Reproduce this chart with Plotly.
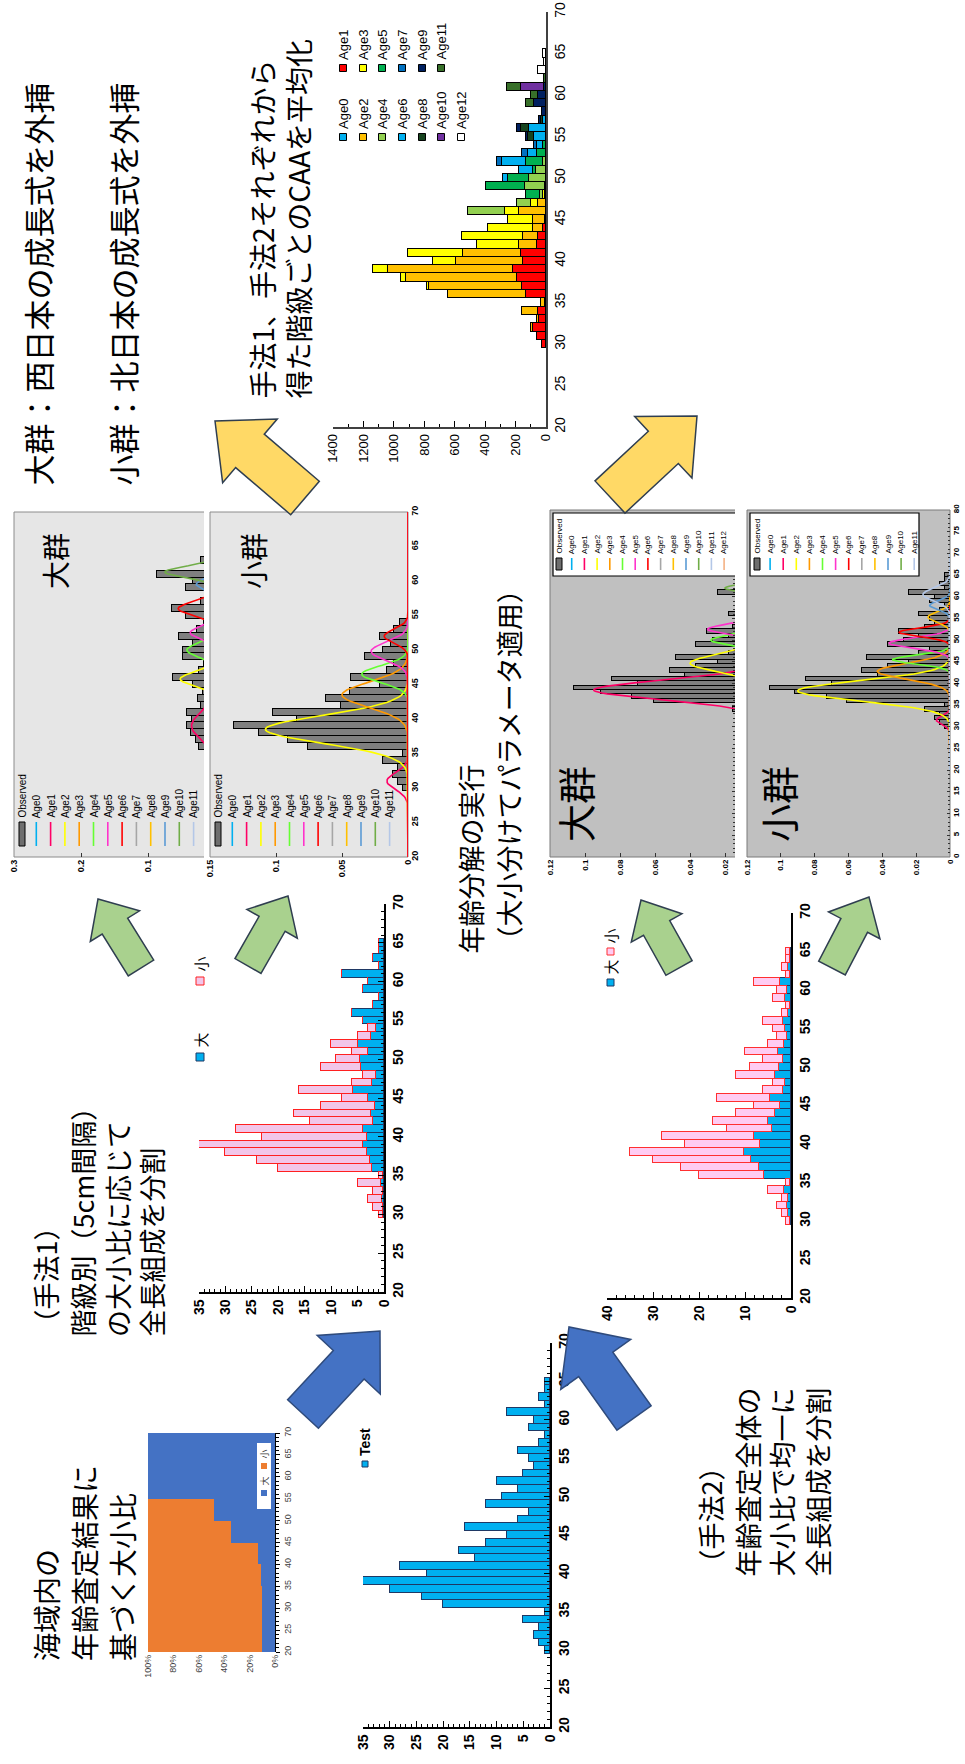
import numpy as np
import plotly.graph_objects as go

W, H = 965, 1764
JP = "Noto Sans CJK JP"
LAT = "Liberation Sans, Arial, sans-serif"

# ---------------- data ----------------
lengths = list(range(30, 66))  # 1 cm length classes (cm)

test_counts = [1, 2, 3, 2, 5, 1, 20, 24, 30, 35, 23, 28, 14, 17, 12, 8, 16, 6,
               4, 12, 9, 6, 10, 5, 3, 4, 6, 2, 1, 4, 3, 8, 1, 2, 1, 1]

# method 1: split by the large/small ratio of each 5 cm class
large_m1 = [0.1, 0.2, 0.3, 0.2, 0.5, 0.1, 2.2, 2.6, 3.3, 3.9, 3.2, 3.9, 2.0, 2.4,
            1.7, 3.0, 5.9, 2.2, 1.5, 4.4, 4.5, 3.0, 5.0, 2.5, 1.5, 4, 6, 2, 1, 4,
            3, 8, 1, 2, 1, 1]
small_m1 = [0.9, 1.8, 2.7, 1.8, 4.5, 0.9, 17.8, 21.4, 26.7, 31.1, 19.8, 24.1,
            12.0, 14.6, 10.3, 5.0, 10.1, 3.8, 2.5, 7.6, 4.5, 3.0, 5.0, 2.5, 1.5,
            0, 0, 0, 0, 0, 0, 0, 0, 0, 0, 0]

# method 2: one overall large/small ratio
large_m2 = [0.3, 0.6, 0.9, 0.6, 1.5, 0.3, 5.8, 7.0, 8.7, 10.2, 6.7, 8.1, 4.1, 4.9,
            3.5, 2.3, 4.6, 1.7, 1.2, 3.5, 2.6, 1.7, 2.9, 1.5, 0.9, 1.2, 1.7, 0.6,
            0.3, 1.2, 0.9, 2.3, 0.3, 0.6, 0.3, 0.3]
small_m2 = [0.7, 1.4, 2.1, 1.4, 3.5, 0.7, 14.2, 17.0, 21.3, 24.8, 16.3, 19.9, 9.9,
            12.1, 8.5, 5.7, 11.4, 4.3, 2.8, 8.5, 6.4, 4.3, 7.1, 3.5, 2.1, 2.8, 4.3,
            1.4, 0.7, 2.8, 2.1, 5.7, 0.7, 1.4, 0.7, 0.7]

# large/small ratio from age readings, per 5 cm class
ratio_class_mid = [22.5, 27.5, 32.5, 37.5, 42.5, 47.5, 52.5, 57.5, 62.5, 67.5]
ratio_large = [0.10, 0.10, 0.10, 0.11, 0.13, 0.35, 0.48, 1.0, 1.0, 1.0]
ratio_small = [0.90, 0.90, 0.90, 0.89, 0.87, 0.65, 0.52, 0.0, 0.0, 0.0]

# catch at age by length class {length: number}
caa_age0 = {}
caa_age1 = {30: 26, 31: 61, 32: 88, 33: 44, 34: 50, 35: 4, 36: 131, 37: 158, 38: 193,
            39: 219, 40: 149, 41: 164, 42: 59, 43: 50, 44: 22, 45: 4}
caa_age2 = {32: 8, 33: 17, 34: 107, 35: 26, 36: 515, 37: 608, 38: 726, 39: 820,
            40: 445, 41: 383, 42: 120, 43: 103, 44: 66, 45: 84, 46: 175, 47: 55, 48: 8}
caa_age3 = {37: 15, 38: 37, 39: 99, 40: 149, 41: 361, 42: 274, 43: 399, 44: 296,
            45: 164, 46: 94, 47: 44, 48: 12, 49: 4}
caa_age4 = {46: 245, 47: 94, 48: 22, 49: 131, 50: 114, 51: 66, 52: 18}
caa_age5 = {48: 88, 49: 257, 50: 138, 51: 22, 52: 114, 53: 61, 54: 20}
caa_age6 = {50: 33, 51: 92, 52: 160, 53: 59, 54: 40, 55: 77, 56: 110, 57: 20}
caa_age7 = {52: 33, 53: 37, 54: 22}
caa_age8 = {55: 44, 56: 55, 57: 15}
caa_age9 = {55: 8, 56: 28, 57: 12, 58: 26, 59: 77, 60: 55, 61: 10}
caa_age10 = {61: 153}
caa_age11 = {59: 55, 60: 44, 61: 92, 62: 10}
caa_age12 = {63: 50, 64: 10, 65: 20}

age_names = ["Age%d" % a for a in range(13)]
caa_tables = [caa_age0, caa_age1, caa_age2, caa_age3, caa_age4, caa_age5, caa_age6,
              caa_age7, caa_age8, caa_age9, caa_age10, caa_age11, caa_age12]
caa_colors = ["#00B0F0", "#FF0000", "#FFC000", "#FFFF00", "#92D050", "#00B050",
              "#00B0F0", "#0070C0", "#17441F", "#002060", "#7030A0", "#38702A", "#FFFFFF"]

fit_colors = ["#00B0F0", "#FF0066", "#FFFF00", "#FF9900", "#66FF33", "#FF33CC",
              "#FF0000", "#A6A6A6", "#FFC000", "#5B9BD5", "#70AD47", "#B4C7E7", "#F4B183"]

# fitted age components: (age, mean length, sd, peak proportion)
fit_m1_large = [(1, 39.0, 2.0, 0.035), (2, 45.8, 1.0, 0.052), (4, 50.0, 1.0, 0.042),
                (5, 52.5, 0.9, 0.037), (6, 56.0, 1.0, 0.055), (9, 59.5, 0.8, 0.028),
                (10, 61.3, 0.8, 0.075)]
fit_m1_small = [(1, 31.0, 1.2, 0.016), (2, 38.5, 2.0, 0.108), (3, 43.5, 1.8, 0.05),
                (4, 46.5, 1.2, 0.035), (5, 49.8, 1.3, 0.028), (6, 52.0, 1.0, 0.018)]
fit_m2_large = [(1, 38.5, 2.2, 0.095), (2, 44.7, 2.0, 0.04), (4, 50.0, 1.2, 0.028),
                (5, 52.5, 1.2, 0.03), (10, 62.0, 0.8, 0.02)]
fit_m2_small = [(1, 31.5, 1.0, 0.008), (2, 38.3, 2.3, 0.09), (3, 42.8, 1.8, 0.043),
                (4, 45.5, 1.0, 0.034), (5, 49.3, 1.2, 0.036), (6, 51.8, 1.0, 0.03),
                (8, 55.3, 1.2, 0.013), (9, 58.0, 1.0, 0.012), (11, 60.5, 1.5, 0.016)]


# ---------------- helpers ----------------
def X(x):
    return x / W


def Y(y):
    return 1 - y / H


shapes = []
annotations = []


def rect(x0, y0, x1, y1, fill, line=None, lw=1, layer="below", dash=None):
    ln = dict(width=0) if line is None else dict(color=line, width=lw)
    if dash:
        ln["dash"] = dash
    shapes.append(dict(type="rect", xref="paper", yref="paper", x0=X(x0), x1=X(x1),
                       y0=Y(y1), y1=Y(y0), fillcolor=fill, line=ln, layer=layer))


def path(points, fill=None, line="black", lw=1, closed=True, layer="above", dash=None):
    d = "M " + " L ".join("%.5f,%.5f" % (X(px), Y(py)) for px, py in points)
    if closed:
        d += " Z"
    ln = dict(color=line, width=lw)
    if dash:
        ln["dash"] = dash
    s = dict(type="path", xref="paper", yref="paper", path=d, line=ln, layer=layer)
    if fill:
        s["fillcolor"] = fill
    shapes.append(s)


def text(x, y, s, size, color="black", family=JP, angle=-90, xanchor="center",
         yanchor="bottom", weight="normal"):
    annotations.append(dict(x=X(x), y=Y(y), xref="paper", yref="paper", text=s,
                            showarrow=False, textangle=angle, xanchor=xanchor,
                            yanchor=yanchor, align="left", borderpad=0,
                            font=dict(size=size, color=color, family=family,
                                      weight=weight)))


def block_arrow(tail, tip, shaft_w, head_w, head_len, fill, line):
    tx, ty = tail
    hx, hy = tip
    dx, dy = hx - tx, hy - ty
    L = (dx * dx + dy * dy) ** 0.5
    ux, uy = dx / L, dy / L
    nx, ny = -uy, ux
    bx, by = hx - ux * head_len, hy - uy * head_len
    pts = [(tx + nx * shaft_w / 2, ty + ny * shaft_w / 2),
           (bx + nx * shaft_w / 2, by + ny * shaft_w / 2),
           (bx + nx * head_w / 2, by + ny * head_w / 2),
           (hx, hy),
           (bx - nx * head_w / 2, by - ny * head_w / 2),
           (bx - nx * shaft_w / 2, by - ny * shaft_w / 2),
           (tx - nx * shaft_w / 2, ty - ny * shaft_w / 2)]
    path(pts, fill=fill, line=line, lw=1.5)


layout = dict(width=W, height=H, margin=dict(l=0, r=0, t=0, b=0),
              paper_bgcolor="white", plot_bgcolor="rgba(0,0,0,0)", template="none",
              barmode="stack", bargap=0, showlegend=False,
              font=dict(family=LAT, color="black"))


def set_axes(n, xl, xr, yb, yt, xrange, yrange, xopts, yopts):
    xa = "xaxis" if n == 1 else "xaxis%d" % n
    ya = "yaxis" if n == 1 else "yaxis%d" % n
    xid = "x" if n == 1 else "x%d" % n
    yid = "y" if n == 1 else "y%d" % n
    base = dict(showgrid=False, zeroline=False, automargin=False, fixedrange=True)
    layout[xa] = dict(domain=[X(xl), X(xr)], range=xrange, anchor=yid, **base, **xopts)
    layout[ya] = dict(domain=[Y(yb), Y(yt)], range=yrange, anchor=xid, side="right",
                      **base, **yopts)
    return xid, yid


def hist_x(dtick=5, minor=1, size=14, weight="bold"):
    return dict(tickmode="linear", tick0=0, dtick=dtick, tickangle=-90, ticks="inside",
                ticklen=6, tickcolor="black", showline=True, linecolor="black",
                linewidth=1.5, tickfont=dict(size=size, weight=weight, family=LAT),
                minor=dict(dtick=minor, ticks="inside", ticklen=3, tickcolor="black"))


def hist_y(size=14, weight="bold", minor=1, ticks="inside"):
    d = dict(tickmode="linear", tick0=20, dtick=5, tickangle=-90, ticks=ticks,
             ticklen=6 if ticks else 0, tickcolor="black", showline=True,
             linecolor="black", linewidth=1.5,
             tickfont=dict(size=size, weight=weight, family=LAT))
    if minor:
        d["minor"] = dict(dtick=minor, ticks="inside", ticklen=3, tickcolor="black")
    return d


traces = []
grid = np.arange(20, 70.01, 0.2)

# ---------------- length composition (test) ----------------
xa, ya = set_axes(1, 363, 550, 1727, 1343, [35, 0], [20, 70], hist_x(), hist_y())
traces.append(go.Bar(y=lengths, x=test_counts, orientation="h", width=1,
                     marker=dict(color="#00B0F0", line=dict(color="#1F3864", width=1.2)),
                     xaxis=xa, yaxis=ya))
rect(362, 1461, 368, 1467, "#00B0F0", "#1F3864", 1, layer="above")
text(365, 1457, "Test", 14, family=LAT, weight="bold")

# ---------------- method 1 split ----------------
xa, ya = set_axes(2, 199, 384, 1292, 904, [35, 0], [20, 70], hist_x(), hist_y())
traces.append(go.Bar(y=lengths, x=large_m1, orientation="h", width=1,
                     marker=dict(color="#00B0F0", line=dict(color="#1F3864", width=1.2)),
                     xaxis=xa, yaxis=ya))
traces.append(go.Bar(y=lengths, x=small_m1, orientation="h", width=1,
                     marker=dict(color="#F2C6E9", line=dict(color="#FF2020", width=1.2)),
                     xaxis=xa, yaxis=ya))
rect(196, 1053, 204, 1061, "#00B0F0", "#1F3864", 1, layer="above")
text(200, 1049, "大", 15)
rect(196, 977, 204, 985, "#F2C6E9", "#FF2020", 1, layer="above")
text(200, 973, "小", 15)

# ---------------- method 2 split ----------------
xa, ya = set_axes(3, 607, 791, 1298, 913, [40, 0], [20, 70],
                  hist_x(dtick=10, minor=2), hist_y(minor=None, ticks=""))
traces.append(go.Bar(y=lengths, x=large_m2, orientation="h", width=1,
                     marker=dict(color="#00B0F0", line=dict(color="#1F3864", width=1.2)),
                     xaxis=xa, yaxis=ya))
traces.append(go.Bar(y=lengths, x=small_m2, orientation="h", width=1,
                     marker=dict(color="#FFCCF2", line=dict(color="#FF3030", width=1.2)),
                     xaxis=xa, yaxis=ya))
rect(607, 979, 614, 986, "#00B0F0", "#1F3864", 1, layer="above")
text(610, 976, "大", 15)
rect(607, 948, 614, 955, "#FFCCF2", "#FF3030", 1, layer="above")
text(610, 945, "小", 15)

# ---------------- large/small ratio ----------------
xa, ya = set_axes(4, 148, 275, 1652, 1433, [1, 0], [20, 70],
                  dict(tickmode="array", tickvals=[0, 0.2, 0.4, 0.6, 0.8, 1.0],
                       ticktext=["0%", "20%", "40%", "60%", "80%", "100%"],
                       tickangle=-90, ticks="", tickfont=dict(size=9, color="#404040")),
                  dict(tickmode="linear", tick0=20, dtick=5, tickangle=-90,
                       ticks="outside", ticklen=4, tickcolor="black", showline=True,
                       linecolor="black", linewidth=1, tickfont=dict(size=9, color="#404040"),
                       minor=dict(dtick=1, ticks="outside", ticklen=3, tickcolor="black")))
traces.append(go.Bar(y=ratio_class_mid, x=ratio_large, orientation="h", width=5,
                     marker=dict(color="#4472C4", line=dict(width=0)), xaxis=xa, yaxis=ya))
traces.append(go.Bar(y=ratio_class_mid, x=ratio_small, orientation="h", width=5,
                     marker=dict(color="#ED7D31", line=dict(width=0)), xaxis=xa, yaxis=ya))
rect(257, 1443, 271, 1509, "white", None, layer="above")
rect(261, 1490, 267, 1496, "#4472C4", None, layer="above")
text(264, 1487, "大", 9, color="#404040")
rect(261, 1463, 267, 1469, "#ED7D31", None, layer="above")
text(264, 1460, "小", 9, color="#404040")


# ---------------- age decomposition panels ----------------
def density(values):
    arr = np.asarray(values, dtype=float)
    return arr / arr.sum()


def decomp_panel(n, xl, xr, yb, yt, xrange, yrange, counts, comps, tick_dtick,
                 len_dtick, tick_size, show_len_labels, len_minor=None):
    xo = dict(tickmode="linear", tick0=0, dtick=tick_dtick, tickangle=-90,
              ticks="inside", ticklen=4, tickcolor="#333333",
              tickfont=dict(size=tick_size, family=LAT, weight="bold"))
    yo = dict(tickmode="linear", tick0=yrange[0], dtick=len_dtick, tickangle=-90,
              ticks="inside" if len_minor else "", ticklen=3, tickcolor="#333333",
              showticklabels=show_len_labels,
              tickfont=dict(size=tick_size, family=LAT, weight="bold"))
    if len_minor:
        yo["minor"] = dict(dtick=len_minor, ticks="inside", ticklen=2, tickcolor="#333333")
    xa, ya = set_axes(n, xl, xr, yb, yt, xrange, yrange, xo, yo)
    traces.append(go.Bar(y=lengths, x=density(counts), orientation="h", width=1,
                         marker=dict(color="#7F7F7F", line=dict(color="black", width=1)),
                         xaxis=xa, yaxis=ya))
    for age, mu, sd, peak in comps:
        traces.append(go.Scatter(x=peak * np.exp(-0.5 * ((grid - mu) / sd) ** 2), y=grid,
                                 mode="lines", line=dict(color=fit_colors[age], width=1.6),
                                 xaxis=xa, yaxis=ya))


def decomp_legend(x0, step, n_ages, sym_top, sym_bot, size, xmax=10000):
    names = ["Observed"] + age_names[:n_ages]
    for i, name in enumerate(names):
        x = x0 + i * step
        if x > xmax:
            break
        if i == 0:
            rect(x - 3, sym_top, x + 3, sym_bot, "#6E6E6E", "black", 1, layer="above")
        else:
            path([(x, sym_top), (x, sym_bot)], line=fit_colors[i - 1], lw=1.6,
                 closed=False)
        text(x, sym_top - 3, name, size, family=LAT)


# method 1, large group (right part covered by the small-group panel)
rect(14, 512, 204, 857, "#E6E6E6", None)
path([(204, 512), (14, 512), (14, 857), (204, 857)], line="#8C8C8C", lw=1,
     closed=False, layer="below")
decomp_panel(5, 14, 204, 857, 512, [0.3, 0.3 * 11 / 201], [20, 70], large_m1,
             fit_m1_large, 0.1, 5, 9, False)
decomp_legend(22, 14.3, 13, 822, 846, 10, xmax=200)
text(55, 590, "大群", 28)

# method 1, small group
rect(210, 512, 408, 857, "#E6E6E6", "#8C8C8C", 1)
decomp_panel(6, 210, 408, 857, 512, [0.15, 0], [20, 70], small_m1, fit_m1_small,
             0.05, 5, 9, True)
decomp_legend(218, 14.3, 12, 822, 846, 10)
text(253, 590, "小群", 28)

# method 2, large group (right part covered)
rect(550, 510, 735, 857, "#C0C0C0", None)
path([(735, 510), (550, 510), (550, 857), (735, 857)], line="#7A7A7A", lw=1,
     closed=False, layer="below")
decomp_panel(7, 550, 735, 857, 510, [0.12, 0.12 * 25 / 210], [0, 80], large_m2,
             fit_m2_large, 0.02, 5, 8, False, len_minor=1)
rect(553, 513, 735, 576, "white", None, layer="above")
path([(735, 513), (553, 513), (553, 576), (735, 576)], line="black", lw=1.2,
     closed=False)
decomp_legend(559, 12.7, 13, 558, 570, 8, xmax=732)
text(575, 843, "大群", 38)

# method 2, small group
rect(747, 510, 950, 857, "#C0C0C0", "#7A7A7A", 1)
decomp_panel(8, 747, 950, 857, 510, [0.12, 0], [0, 80], small_m2, fit_m2_small,
             0.02, 5, 8, True, len_minor=1)
rect(750, 513, 919, 576, "white", "black", 1.2, layer="above")
decomp_legend(757, 13.1, 12, 558, 570, 8)
text(778, 843, "小群", 38)

# ---------------- catch at age ----------------
xa, ya = set_axes(9, 333, 546, 427, 12, [1400, 0], [20, 70],
                  dict(tickmode="linear", tick0=0, dtick=200, tickangle=-90,
                       ticks="inside", ticklen=6, tickcolor="black", showline=True,
                       linecolor="#404040", linewidth=1.5,
                       tickfont=dict(size=13, family=LAT),
                       minor=dict(dtick=100, ticks="inside", ticklen=3, tickcolor="black")),
                  dict(tickmode="linear", tick0=20, dtick=5, tickangle=-90, ticks="",
                       showline=True, linecolor="#404040", linewidth=1.5,
                       tickfont=dict(size=14, family=LAT)))
for name, table, col in zip(age_names, caa_tables, caa_colors):
    traces.append(go.Bar(y=lengths, x=[table.get(L, 0) for L in lengths], orientation="h",
                         width=1, name=name,
                         marker=dict(color=col, line=dict(color="black", width=1)),
                         xaxis=xa, yaxis=ya))
legend_rows = [343, 363, 382, 402, 422, 441, 461]
for i, (name, col) in enumerate(zip(age_names, caa_colors)):
    x = legend_rows[i // 2]
    ys = 137 if i % 2 == 0 else 68
    rect(x - 3.5, ys - 3.5, x + 3.5, ys + 3.5, col, "black", 1, layer="above")
    text(x, ys - 7, name, 13, family=LAT)

# ---------------- arrows ----------------
BLUE, BLUE_L = "#4472C4", "#2F4B7C"
GREEN, YEL, DARK = "#A9D18E", "#FFD966", "#2F3E50"
block_arrow((303, 1414), (380, 1331), 42, 86, 46, BLUE, BLUE_L)
block_arrow((634, 1418), (569, 1327), 42, 86, 46, BLUE, BLUE_L)
block_arrow((141, 968), (98, 899), 30, 58, 32, GREEN, DARK)
block_arrow((248, 966), (288, 896), 30, 58, 32, GREEN, DARK)
block_arrow((679, 968), (641, 900), 30, 58, 32, GREEN, DARK)
block_arrow((832, 968), (869, 897), 30, 58, 32, GREEN, DARK)
block_arrow((305, 498), (215, 421), 44, 84, 46, YEL, DARK)
block_arrow((610, 497), (697, 416), 44, 84, 46, YEL, DARK)

# ---------------- captions ----------------
text(37, 487, "大群：西日本の成長式を外挿", 31)
text(122, 487, "小群：北日本の成長式を外挿", 31)
text(262, 400, "手法1、手法2それぞれから", 28)
text(298, 400, "得た階級ごとのCAAを平均化", 28)
text(470, 955, "年齢分解の実行", 27)
text(508, 955, "（大小分けてパラメータ適用）", 27)
text(45, 1338, "（手法1）", 27)
text(82, 1338, "階級別（5cm間隔）", 27)
text(117, 1338, "の大小比に応じて", 27)
text(151, 1338, "全長組成を分割", 27)
text(46, 1662, "海域内の", 28)
text(84, 1662, "年齢査定結果に", 28)
text(122, 1662, "基づく大小比", 28)
text(710, 1578, "（手法2）", 27)
text(747, 1578, "年齢査定全体の", 27)
text(781, 1578, "大小比で均一に", 27)
text(817, 1578, "全長組成を分割", 27)

layout["shapes"] = shapes
layout["annotations"] = annotations
fig = go.Figure(data=traces, layout=layout)
fig.update_traces(hoverinfo="skip")
fig.write_html("out.html")
